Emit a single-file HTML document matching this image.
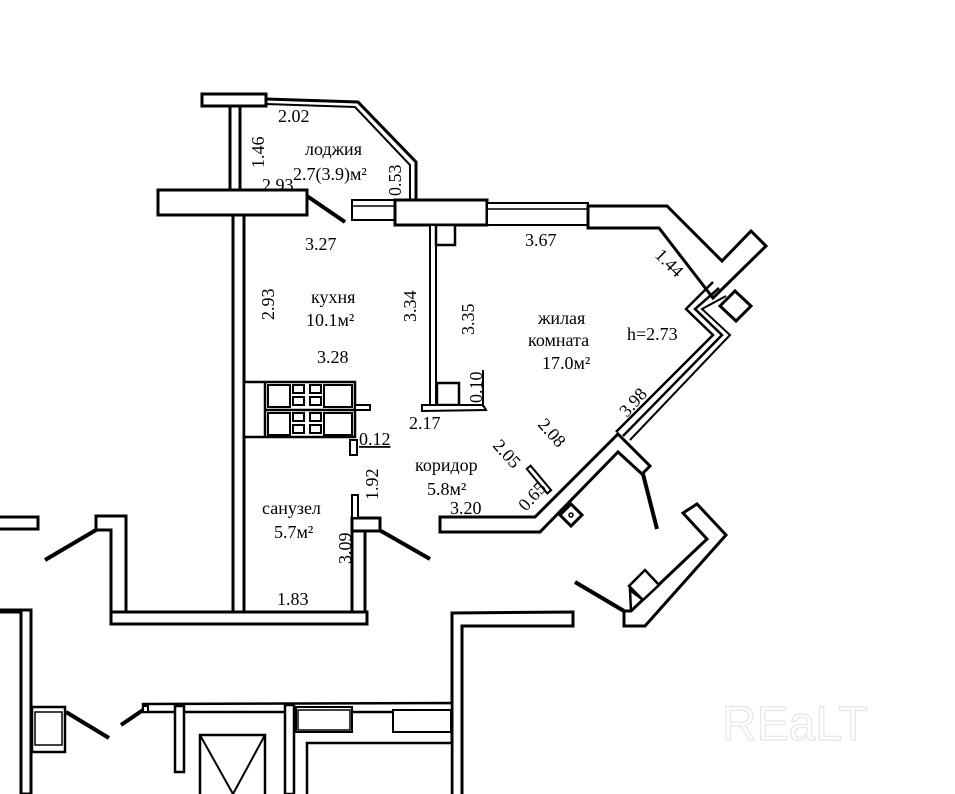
<!DOCTYPE html>
<html><head><meta charset="utf-8"><style>
html,body{margin:0;padding:0;background:#fff;}
svg{display:block;}
.t text{font-family:"Liberation Serif","DejaVu Serif",serif;fill:#000;}
</style></head><body>
<svg width="955" height="794" viewBox="0 0 955 794" xmlns="http://www.w3.org/2000/svg">
<g fill="#fff" stroke="#000" stroke-width="3" stroke-linejoin="miter">
<rect x="202" y="94" width="64" height="12"/>
<rect x="230" y="106" width="10" height="84"/>
<path d="M266 99 L358 102 L416 162 L416 202" fill="none"/>
<path d="M266 104 L355 107 L410 165 L410 202" fill="none" stroke-width="2"/>
<rect x="158" y="190" width="149" height="25"/>
<rect x="352" y="200" width="43" height="20" stroke-width="2"/>
<line x1="352" y1="206" x2="395" y2="206" stroke-width="1.5"/>
<rect x="395" y="200" width="92" height="25"/>
<rect x="487" y="203" width="101" height="22" stroke-width="2"/>
<line x1="487" y1="209" x2="588" y2="209" stroke-width="1.5"/>
<rect x="233" y="215" width="11" height="398"/>
<rect x="111" y="612" width="256" height="12"/>
<path d="M96 516 L126 516 L126 612 L111 612 L111 530 L96 530 Z"/>
<rect x="352" y="518" width="28" height="13"/>
<rect x="352" y="531" width="13" height="81"/>
<rect x="352" y="495" width="6" height="23" stroke-width="2"/>
<rect x="430" y="225" width="6" height="180" stroke-width="2"/>
<rect x="436" y="225" width="19" height="20" stroke-width="2.5"/>
<rect x="437" y="383" width="22" height="22" stroke-width="2.5"/>
<path d="M422 405 L483 405 L486 410 L422 411 Z" stroke-width="2"/>
<line x1="483" y1="370" x2="483" y2="407" stroke-width="2"/>
<rect x="244" y="382" width="111" height="55" stroke-width="2.5"/>
<line x1="265" y1="382" x2="265" y2="437" stroke-width="2.5"/>
<line x1="265" y1="410" x2="355" y2="410" stroke-width="2.5"/>
<rect x="355" y="405" width="15" height="5" stroke-width="2"/>
<rect x="350" y="440" width="7" height="15" stroke-width="2"/>
<g stroke-width="2">
<rect x="268" y="385" width="22" height="22"/><rect x="293" y="385" width="11" height="8"/><rect x="293" y="397" width="11" height="8"/>
<rect x="310" y="385" width="11" height="8"/><rect x="310" y="397" width="11" height="8"/><rect x="324" y="385" width="28" height="22"/>
<rect x="268" y="413" width="22" height="22"/><rect x="293" y="413" width="11" height="8"/><rect x="293" y="425" width="11" height="8"/>
<rect x="310" y="413" width="11" height="8"/><rect x="310" y="425" width="11" height="8"/><rect x="324" y="413" width="28" height="22"/>
</g>
<polygon points="588,206 667,206 722,261 751,231 766,246 713,298 659,228 588,228"/>
<polygon points="720,306 735,291 751,306 736,321"/>
<path d="M713 282 L686 309 L713 335 L616 432" fill="none" stroke-width="2.5"/>
<path d="M719 288 L695 309 L722 335 L623 436" fill="none" stroke-width="2.5"/>
<path d="M726 296 L702 309 L730 335 L630 440" fill="none" stroke-width="2"/>
<polygon points="618,434 650,466 642,474 618,452 540,532 440,532 440,517 535,517"/>
<polygon points="560,515 571,504 582,515 571,526"/>
<circle cx="571" cy="515" r="2" fill="none" stroke-width="1.5"/>
<rect x="537" y="463" width="5" height="32" transform="rotate(-40 540 480)" stroke-width="2"/>
<polygon points="683,513 697,504 726,535 645,626 624,626 624,611 631,611 707,539"/>
<polygon points="629,586 645,570 659,585 643,600" stroke-width="2.5"/>
<path d="M631 611 L630 590 L643 600" fill="none" stroke-width="2.5"/>
<rect x="-5" y="517" width="43" height="12"/>
<path d="M-5 612 L21 612 L21 794 L31 794 L31 610 L-5 610" />
<path d="M452 794 L452 613 L573 612 L573 626 L462 626 L462 794" />
<path d="M143 704 L452 703 L452 712 L143 712 Z" stroke-width="2.5"/>
<rect x="143" y="706" width="5" height="6" stroke-width="2"/>
<rect x="175" y="706" width="9" height="66" stroke-width="2.5"/>
<rect x="200" y="735" width="65" height="62" stroke-width="2.5"/>
<path d="M200 735 L233 794 L265 735" fill="none" stroke-width="2"/>
<rect x="285" y="705" width="9" height="89" stroke-width="2.5"/>
<rect x="296" y="707" width="56" height="25" stroke-width="2"/>
<rect x="298" y="710" width="52" height="20" stroke-width="1.5"/>
<rect x="393" y="710" width="58" height="22" stroke-width="2"/>
<rect x="307" y="743" width="145" height="55" stroke-width="2.5"/>
<rect x="32" y="707" width="33" height="45" stroke-width="2.5"/>
<rect x="35" y="712" width="27" height="33" stroke-width="1.5"/>
</g>
<g stroke="#000" stroke-width="4" stroke-linecap="butt">
<line x1="307" y1="196" x2="345" y2="222"/>
<line x1="45" y1="560" x2="96" y2="530"/>
<line x1="381" y1="531" x2="430" y2="559"/>
<line x1="575" y1="582" x2="624" y2="611"/>
<line x1="643" y1="474" x2="657" y2="529"/>
<line x1="66" y1="712" x2="109" y2="738"/>
<line x1="121" y1="725" x2="143" y2="710"/>
</g>
<g class="t" font-size="18">
<text x="278" y="122">2.02</text>
<text x="305" y="155">лоджия</text>
<text x="293" y="180">2.7(3.9)м²</text>
<text x="262" y="191">2.93</text>
<text transform="translate(264,168) rotate(-90)">1.46</text>
<text transform="translate(401,196) rotate(-90)">0.53</text>
<text x="305" y="250">3.27</text>
<text x="525" y="246">3.67</text>
<text transform="translate(654,256) rotate(45)">1.44</text>
<text transform="translate(274,320) rotate(-90)">2.93</text>
<text x="311" y="303">кухня</text>
<text x="306" y="326">10.1м²</text>
<text transform="translate(416,322) rotate(-90)">3.34</text>
<text transform="translate(474,335) rotate(-90)">3.35</text>
<text x="538" y="324">жилая</text>
<text x="528" y="346">комната</text>
<text x="542" y="369">17.0м²</text>
<text x="627" y="340">h=2.73</text>
<text x="317" y="363">3.28</text>
<text transform="translate(482,403) rotate(-90)">0.10</text>
<text x="409" y="429">2.17</text>
<text transform="translate(627,418) rotate(-48)">3.98</text>
<text transform="translate(537,425) rotate(48)">2.08</text>
<text transform="translate(492,446) rotate(48)">2.05</text>
<text transform="translate(526,512) rotate(-48)">0.65</text>
<text x="359" y="445" text-decoration="underline">0.12</text>
<text transform="translate(378,500) rotate(-90)">1.92</text>
<text x="415" y="471">коридор</text>
<text x="427" y="495">5.8м²</text>
<text x="450" y="514">3.20</text>
<text x="262" y="514">санузел</text>
<text x="274" y="538">5.7м²</text>
<text transform="translate(351,564) rotate(-90)">3.09</text>
<text x="277" y="605">1.83</text>
</g>
<text x="722" y="740" style="font-family:'Liberation Sans',sans-serif;font-size:48px;fill:#fff;stroke:#e6e6e6;stroke-width:1.2px">REaLT</text>
</svg>
</body></html>
